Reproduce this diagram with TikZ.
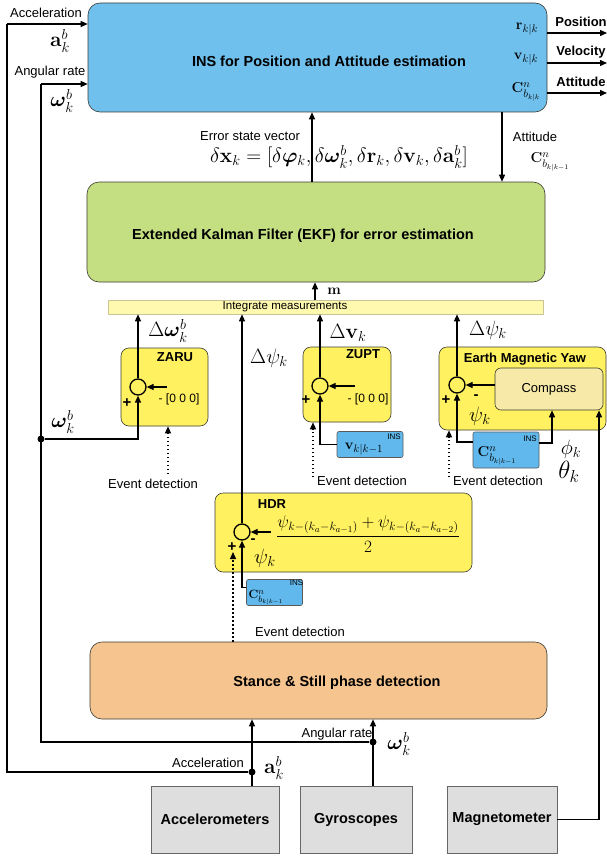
\documentclass[tikz,border=0pt]{standalone}
\usepackage[no-math]{fontspec}
\setmainfont{Liberation Sans}
\usepackage{amsmath,bm}
\usetikzlibrary{arrows.meta,calc}
\definecolor{insblue}{RGB}{112,192,238}
\definecolor{ekfgreen}{RGB}{196,222,130}
\definecolor{baryel}{RGB}{255,249,175}
\definecolor{boxyel}{RGB}{255,241,95}
\definecolor{compcol}{RGB}{247,234,168}
\definecolor{smblue}{RGB}{96,184,236}
\definecolor{stancecol}{RGB}{246,196,142}
\definecolor{sensgray}{RGB}{222,222,222}
\definecolor{edgecol}{RGB}{60,60,50}
\newcommand{\fsz}[1]{\fontsize{#1}{#1}\selectfont}
\begin{document}
\begin{tikzpicture}[x=1pt,y=-1pt,
  blkbox/.style={draw=edgecol,line width=0.6pt,inner sep=0pt},
  bigbox/.style={blkbox,rounded corners=12pt},
  ybox/.style={blkbox,fill=boxyel,rounded corners=8pt},
  sens/.style={blkbox,fill=sensgray,draw=gray!80!black,font=\fsz{14.5}\bfseries},
  sblue/.style={blkbox,fill=smblue,draw=gray!70!black,rounded corners=2pt},
  ttl/.style={font=\fsz{14.5}\bfseries,inner sep=0pt},
  ytitle/.style={font=\fsz{13}\bfseries,inner sep=0pt},
  lbl/.style={font=\fsz{13},inner sep=0pt},
  olbl/.style={font=\fsz{13}\bfseries,inner sep=0pt},
  mth/.style={font=\fsz{20},inner sep=0pt},
  smth/.style={font=\fsz{15},inner sep=0pt},
  sgn/.style={font=\fsz{15}\bfseries,inner sep=0pt},
  small/.style={font=\fsz{8},inner sep=0pt},
  zlbl/.style={font=\fsz{12},inner sep=0pt},
  sumc/.style={circle,draw=black,line width=1.3pt,minimum size=16pt,inner sep=0pt,fill=boxyel},
  wireline/.style={line width=1.3pt,draw=black},
  arr/.style={wireline,-{Triangle[length=7pt,width=6pt]}},
  evt/.style={line width=1.3pt,dash pattern=on 1.5pt off 2.5pt,-{Triangle[length=7pt,width=6pt]}},
  jdot/.style={circle,fill=black,minimum size=7pt,inner sep=0pt},
]
\useasboundingbox (0,0) rectangle (607,856);
\fill[white] (0,0) rectangle (607,856);

% ---------- INS ----------
\node[bigbox,fill=insblue,minimum width=459pt,minimum height=109pt] (ins) at (317.5,57.5) {};
\node[ttl] (insT) at (329,61) {INS for Position and Attitude estimation};
\node[smth] (rkk) at (527,29) {$\mathbf{r}_{k|k}$};
\node[smth] (vkk) at (526,59) {$\mathbf{v}_{k|k}$};
\node[smth] (ckk) at (526,92) {$\mathbf{C}^{n}_{b_{k|k}}$};

\coordinate (oP) at (607,33);
\coordinate (oV) at (607,63);
\coordinate (oA) at (607,93);
\draw[arr] (ins.east |- oP) -- (oP);
\draw[arr] (ins.east |- oV) -- (oV);
\draw[arr] (ins.east |- oA) -- (oA);
\node[olbl] (lP) at (581,22) {Position};
\node[olbl] (lV) at (581,52) {Velocity};
\node[olbl] (lA) at (581,82) {Attitude};

% ---------- left inputs ----------
\coordinate (aL) at (7,24);
\coordinate (aB) at (7,772);
\coordinate (wL) at (41,84);
\coordinate (wB) at (41,742);
\draw[arr] (aL) -- (ins.west |- aL);
\draw[arr] (wL) -- (ins.west |- wL);
\node[lbl] (accT) at (46,13) {Acceleration};
\node[mth] (accM) at (60,41) {$\mathbf{a}^{b}_{k}$};
\node[lbl] (angT) at (50,72) {Angular rate};
\node[mth] (angM) at (62,101) {$\boldsymbol{\omega}^{b}_{k}$};

% ---------- EKF ----------
\node[bigbox,fill=ekfgreen,minimum width=458pt,minimum height=100pt] (ekf) at (316,232) {};
\node[ttl] (ekfT) at (303,236) {Extended Kalman Filter (EKF) for error estimation};
\coordinate (xe) at (312,0);
\coordinate (xatt) at (502,0);
\draw[arr] (ekf.north -| xe) -- (ins.south -| xe);
\draw[arr] (ins.south -| xatt) -- (ekf.north -| xatt);
\node[lbl] (esv) at (250,136) {Error state vector};
\node[font=\fsz{20},inner sep=0pt] (esf) at (339,157) {$\delta\mathbf{x}_k=[\delta\boldsymbol{\varphi}_k,\delta\boldsymbol{\omega}^b_k,\delta\mathbf{r}_k,\delta\mathbf{v}_k,\delta\mathbf{a}^b_k]$};
\node[lbl] (attT) at (535,137) {Attitude};
\node[smth] (attM) at (550,162) {$\mathbf{C}^n_{b_{k|k-1}}$};

% ---------- integrate bar ----------
\node[blkbox,fill=baryel,draw=yellow!50!black!50,minimum width=435pt,minimum height=14pt] (bar) at (325.5,307) {};
\node[font=\fsz{11.5},inner sep=0pt] (barT) at (285,307) {Integrate measurements};
\coordinate (xm) at (315,0);
\draw[arr] (bar.north -| xm) -- (ekf.south -| xm);
\node[font=\fsz{15},inner sep=0pt] (mT) at (334,291) {$\mathbf{m}$};

% ---------- ZARU ----------
\node[ybox,minimum width=87pt,minimum height=78pt] (zaru) at (164.5,387) {};
\node[ytitle] (zaruT) at (175,357) {ZARU};
\node[sumc] (s1) at (138,387) {};
\draw[arr] (s1.north) -- (bar.south -| s1.north);
\node[mth] (dw) at (168,331) {$\Delta\boldsymbol{\omega}^b_k$};
\coordinate (z1in) at (167,387);
\draw[arr] (z1in) -- (s1.east);
\node[zlbl] (z1t) at (179,399) {- [0 0 0]};
\node[sgn] (p1) at (127,403) {+};
\node[jdot] (wd) at (41,439) {};
\draw[arr] (wd) -| (s1.south);
\node[mth] (wlab) at (63,422) {$\boldsymbol{\omega}^b_k$};
\node[lbl] (ev1) at (153,484) {Event detection};
\coordinate (ev1s) at (168,474);
\draw[evt] (ev1s) -- (zaru.south -| ev1s);

% ---------- ZUPT ----------
\node[ybox,minimum width=88pt,minimum height=75pt] (zupt) at (347,384.5) {};
\node[ytitle] (zuptT) at (363,354) {ZUPT};
\node[sumc] (s2) at (320,386) {};
\draw[arr] (s2.north) -- (bar.south -| s2.north);
\node[mth] (dv) at (348,333) {$\Delta\mathbf{v}_k$};
\coordinate (z2in) at (355,386);
\draw[arr] (z2in) -- (s2.east);
\node[zlbl] (z2t) at (368,399) {- [0 0 0]};
\node[sgn] (p2) at (306,400) {+};
\node[sblue,minimum width=66pt,minimum height=26pt] (vb) at (370,444.5) {};
\node[smth] (vbM) at (364,449) {$\mathbf{v}_{k|k-1}$};
\node[small] (vbI) at (394,436.5) {INS};
\draw[arr] (vb.west) -| (s2.south);
\node[lbl] (ev2) at (362,481) {Event detection};
\coordinate (ev2s) at (313,477);
\draw[evt] (ev2s) -- (zupt.south -| ev2s);

% ---------- Earth magnetic yaw ----------
\node[ybox,minimum width=167pt,minimum height=83pt] (emy) at (522.5,388.5) {};
\node[ytitle] (emyT) at (525,359) {Earth Magnetic Yaw};
\node[blkbox,fill=compcol,rounded corners=6pt,minimum width=108pt,minimum height=42pt,font=\fsz{13}] (comp) at (549,389) {Compass};
\node[sumc] (s3) at (457,385) {};
\draw[arr] (s3.north) -- (bar.south -| s3.north);
\node[mth] (dpsi) at (488,330) {$\Delta\psi_k$};
\draw[arr] (comp.west |- s3.east) -- (s3.east);
\node[sgn] (m3) at (476,397) {-};
\node[mth] (psi3) at (480,416) {$\psi_k$};
\node[sgn] (p3) at (446,400) {+};
\node[sblue,minimum width=66pt,minimum height=36pt] (cb) at (506,450) {};
\node[smth] (cbM) at (497,456) {$\mathbf{C}^n_{b_{k|k-1}}$};
\node[small] (cbI) at (530,439) {INS};
\draw[arr] ([yshift=8pt]cb.west) -| (s3.south);
\draw[arr] ([yshift=7pt]cb.east) -| ([xshift=3pt]comp.south);
\node[mth] (phk) at (571,449) {$\phi_k$};
\node[font=\fsz{24},inner sep=0pt] (thk) at (569,472) {$\theta_k$};
\node[lbl] (ev3) at (498,481) {Event detection};
\coordinate (ev3s) at (449,477);
\draw[evt] (ev3s) -- (emy.south -| ev3s);

% ---------- HDR ----------
\node[ybox,minimum width=257pt,minimum height=79pt] (hdr) at (343.5,532.5) {};
\node[ytitle] (hdrT) at (272,504) {HDR};
\node[sumc] (s4) at (242,532) {};
\draw[arr] (s4.north) -- (bar.south -| s4.north);
\node[mth] (dpsi2) at (269,358) {$\Delta\psi_k$};
\node[font=\fsz{18},inner sep=0pt] (frac) at (368,534) {$\dfrac{\psi_{k-(k_a-k_{a-1})}+\psi_{k-(k_a-k_{a-2})}}{2}$};
\coordinate (hin) at (271,532);
\draw[arr] (hin) -- (s4.east);
\node[sgn] (m4) at (253,541) {-};
\node[mth] (psi4) at (265,558) {$\psi_k$};
\node[sgn] (p4) at (232,547) {+};
\node[sblue,minimum width=56pt,minimum height=26pt] (cb2) at (274.5,592.5) {};
\node[font=\fsz{13},inner sep=0pt] (cb2M) at (266,598) {$\mathbf{C}^n_{b_{k|k-1}}$};
\node[small] (cb2I) at (296.5,582.5) {INS};
\draw[arr] ([yshift=5pt]cb2.west) -| (s4.south);
\node[lbl] (ev4) at (300,632) {Event detection};

% ---------- Stance ----------
\node[bigbox,fill=stancecol,minimum width=457pt,minimum height=77pt] (stance) at (318.5,680.5) {};
\node[ttl] (stT) at (337,683) {Stance \& Still phase detection};
\coordinate (hdrEv) at (233,552);
\draw[evt] (stance.north -| hdrEv) -- (hdrEv);

% ---------- Sensors ----------
\node[sens,minimum width=128pt,minimum height=67pt] (accS) at (215,819.5) {Accelerometers};
\node[sens,minimum width=112pt,minimum height=67pt] (gyrS) at (356,819.5) {Gyroscopes};
\node[sens,minimum width=110pt,minimum height=67pt] (magS) at (502,819.5) {Magnetometer};

\node[jdot] (ad) at (252,772) {};
\node[jdot] (gd) at (373,742) {};
\draw[arr] (accS.north -| ad) -- (stance.south -| ad);
\draw[arr] (gyrS.north -| gd) -- (stance.south -| gd);
\draw[wireline] (ad) -- (aB) -- (aL);
\draw[wireline] (gd) -- (wB) -- (wL);
\coordinate (mR) at (599,820);
\draw[arr] (magS.east) -- (magS.east -| mR) -- (comp.south -| mR);
\node[lbl] (acc2) at (208,763) {Acceleration};
\node[mth] (acc2M) at (274,768) {$\mathbf{a}^b_k$};
\node[lbl] (ang2) at (337,734) {Angular rate};
\node[mth] (ang2M) at (399,744) {$\boldsymbol{\omega}^b_k$};
\end{tikzpicture}
\end{document}
